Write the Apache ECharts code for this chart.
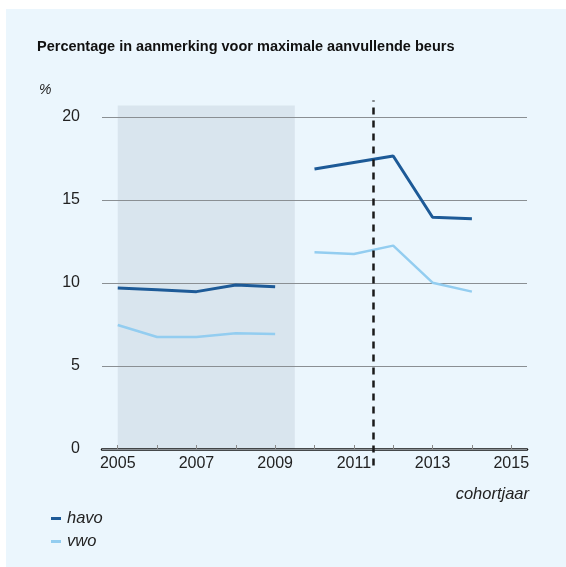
<!DOCTYPE html>
<html>
<head>
<meta charset="utf-8">
<script src="https://cdn.jsdelivr.net/npm/echarts@6/dist/echarts.min.js"></script>
<style>
html,body{margin:0;padding:0;background:#fff;}
#chart{width:566px;height:567px;}
</style>
</head>
<body>
<div id="chart"></div>
<script>
// Data
var titleText = 'Percentage in aanmerking voor maximale aanvullende beurs';
var unitLabel = '%';
var xAxisTitle = 'cohortjaar';
var yearsOld = [2005, 2006, 2007, 2008, 2009];
var yearsNew = [2010, 2011, 2012, 2013, 2014];
var havoOld = [9.7, 9.6, 9.48, 9.88, 9.78];
var havoNew = [16.87, 17.26, 17.65, 13.96, 13.87];
var vwoOld = [7.47, 6.75, 6.75, 6.98, 6.93];
var vwoNew = [11.85, 11.75, 12.25, 10.02, 9.48];
var xTickValues = [2005, 2006, 2007, 2008, 2009, 2010, 2011, 2012, 2013, 2014, 2015];
var xLabelValues = [2005, 2007, 2009, 2011, 2013, 2015];
var shadedPeriod = [2005, 2009.5];
var shadedTop = 20.7;
var policyChangeX = 2011.5;

function pairs(xs, ys) { return xs.map(function (x, i) { return [x, ys[i]]; }); }

var FONT = 'Liberation Sans, Arial, sans-serif';
var HAVO = '#1d5a97';
var VWO = '#93cdf0';

var chart = echarts.init(document.getElementById('chart'));
var option = {
  backgroundColor: '#ffffff',
  animation: false,
  graphic: [
    { type: 'rect', z: -100, silent: true, shape: { x: 6, y: 9, width: 560, height: 558 }, style: { fill: '#ebf6fd' } },
    { type: 'text', left: 39, top: 83, style: { text: unitLabel, font: 'italic 14px ' + FONT, fill: '#222' } },
    { type: 'text', right: 37, top: 486, style: { text: xAxisTitle, font: 'italic 16.5px ' + FONT, fill: '#222', textAlign: 'right' } }
  ],
  title: {
    text: titleText, left: 32, top: 34,
    textStyle: { fontFamily: FONT, fontSize: 14.5, fontWeight: 'bold', color: '#111' }
  },
  legend: {
    data: ['havo', 'vwo'], orient: 'vertical', left: 46, top: 505,
    icon: 'rect', itemWidth: 10, itemHeight: 3, itemGap: 6,
    textStyle: { fontFamily: FONT, fontSize: 16.5, fontStyle: 'italic', color: '#222', padding: [0, 0, 0, 1] },
    selectedMode: false
  },
  grid: [
    { left: 102, right: 39, top: 117, bottom: 118 },
    { left: 102, right: 39, top: 100.4, bottom: 101.4 }
  ],
  xAxis: [
    {
      type: 'value', gridIndex: 0, min: 2004.6, max: 2015.4,
      axisLine: { show: true, onZero: false, lineStyle: { color: '#111', width: 2.5 } },
      axisTick: { show: true, inside: true, length: 4, customValues: xTickValues, lineStyle: { color: '#888', width: 1 } },
      axisLabel: { customValues: xLabelValues, fontFamily: FONT, fontSize: 16, color: '#222', margin: 7,
        formatter: function (v) { return String(v); } },
      splitLine: { show: false }
    },
    {
      type: 'value', gridIndex: 1, min: 2004.6, max: 2015.4, show: false,
      splitLine: { show: false }
    }
  ],
  yAxis: [
    {
      type: 'value', gridIndex: 0, min: 0, max: 20, interval: 5, z: 1,
      axisLine: { show: false }, axisTick: { show: false },
      axisLabel: { fontFamily: FONT, fontSize: 16, color: '#222', margin: 22 },
      splitLine: { show: true, lineStyle: { color: '#8a8f93', width: 1 } }
    },
    {
      type: 'value', gridIndex: 1, min: -1, max: 21, show: false,
      splitLine: { show: false }
    }
  ],
  series: [
    {
      type: 'line', xAxisIndex: 1, yAxisIndex: 1, data: [], z: -2, silent: true,
      markArea: {
        silent: true, z: -2,
        itemStyle: { color: '#d9e5ee', opacity: 1 },
        data: [[{ xAxis: shadedPeriod[0], yAxis: 0 }, { xAxis: shadedPeriod[1], yAxis: shadedTop }]]
      }
    },
    {
      name: 'havo', type: 'line', data: pairs(yearsOld, havoOld), symbol: 'none', z: 3,
      lineStyle: { color: HAVO, width: 3 }, itemStyle: { color: HAVO }
    },
    {
      name: 'havo', type: 'line', data: pairs(yearsNew, havoNew), symbol: 'none', z: 3,
      lineStyle: { color: HAVO, width: 3 }, itemStyle: { color: HAVO }
    },
    {
      name: 'vwo', type: 'line', data: pairs(yearsOld, vwoOld), symbol: 'none', z: 3,
      lineStyle: { color: VWO, width: 2.5 }, itemStyle: { color: VWO }
    },
    {
      name: 'vwo', type: 'line', data: pairs(yearsNew, vwoNew), symbol: 'none', z: 3,
      lineStyle: { color: VWO, width: 2.5 }, itemStyle: { color: VWO }
    },
    {
      type: 'line', xAxisIndex: 1, yAxisIndex: 1, data: [], z: 6, silent: true,
      markLine: {
        silent: true, symbol: 'none', label: { show: false },
        lineStyle: { color: '#1a1a1a', width: 2.5, type: [7, 6] },
        data: [{ xAxis: policyChangeX }]
      }
    }
  ]
};
chart.setOption(option);
</script>
</body>
</html>
